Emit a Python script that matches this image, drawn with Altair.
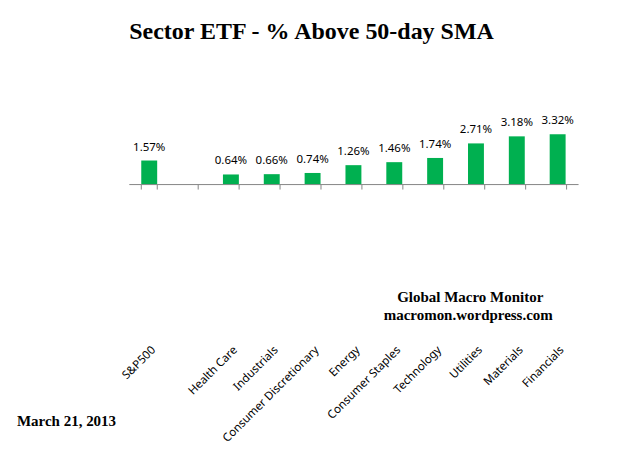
import altair as alt
import pandas as pd

categories = ["S&P500", " ", "Health Care", "Industrials", "Consumer Discretionary",
              "Energy", "Consumer Staples", "Technology", "Utilities", "Materials", "Financials"]
values = [1.57, None, 0.64, 0.66, 0.74, 1.26, 1.46, 1.74, 2.71, 3.18, 3.32]
labels = ["1.57%", "", "0.64%", "0.66%", "0.74%", "1.26%", "1.46%", "1.74%", "2.71%", "3.18%", "3.32%"]

note_line1 = "Global Macro Monitor"
note_line2 = "macromon.wordpress.com"
note_date = "March 21, 2013"

df = pd.DataFrame({"cat": categories, "val": values, "lab": labels})

xenc = alt.X("cat:N", sort=categories, title=None,
             scale=alt.Scale(paddingInner=0.61, paddingOuter=0.305),
             axis=alt.Axis(labelAngle=-45, labelPadding=155, tickBand="extent",
                           domainColor="#868686", tickColor="#868686", tickSize=5,
                           labelFont="Noto Sans", labelFontSize=11.5, labelColor="#000000",
                           grid=False))
yenc = alt.Y("val:Q", scale=alt.Scale(domain=[0, 8.25], nice=False, zero=True), axis=None)

bars = alt.Chart(df).mark_bar(color="#00B050").encode(x=xenc, y=yenc)
text = alt.Chart(df).mark_text(dy=-13, font="Noto Sans", fontSize=11.5, color="#000000").encode(
    x=alt.X("cat:N", sort=categories), y=yenc, text="lab:N")


def note(t, x, y, align="center"):
    d = pd.DataFrame({"t": [t]})
    return alt.Chart(d).mark_text(font="Liberation Serif", fontWeight="bold", fontSize=15,
                                  align=align, color="#000000").encode(
        x=alt.value(x), y=alt.value(y), text="t:N")


n1 = note(note_line1, 342, 237)
n2 = note(note_line2, 340, 255)
n3 = note(note_date, -112, 361, "left")

chart = alt.layer(bars, text, n1, n2, n3).properties(
    width=450, height=124,
    padding={"left": 121, "top": 52, "right": 40, "bottom": 262},
    autosize=alt.AutoSizeParams(type="none"),
    title=alt.TitleParams("Sector ETF - % Above 50-day SMA", font="Liberation Serif",
                          fontSize=24, fontWeight="bold", color="#000000",
                          anchor="middle", dx=-42, offset=16),
).configure_view(stroke=None)

chart.save("out.html", embed_options={"renderer": "svg", "actions": False})
